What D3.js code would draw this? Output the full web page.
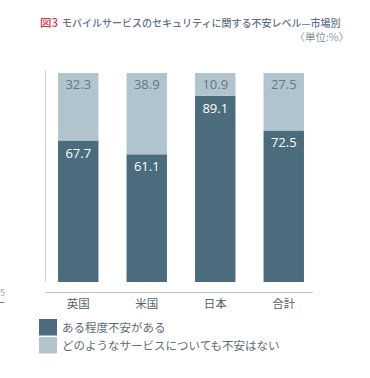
<!DOCTYPE html>
<html><head><meta charset="utf-8">
<script src="https://cdn.jsdelivr.net/npm/d3@7"></script>
<style>
body{margin:0;background:#fff;}
svg{display:block;font-family:"Noto Sans CJK JP","Open Sans",sans-serif;}
</style></head>
<body>
<svg id="c" width="370" height="378"></svg>
<script>
const categories = ["英国","米国","日本","合計"];
const concerned = [67.7, 61.1, 89.1, 72.5];
const notConcerned = [32.3, 38.9, 10.9, 27.5];
const seriesNames = ["ある程度不安がある","どのようなサービスについても不安はない"];
const colors = ["#4a6c7d","#b1c4ce"];

const svg = d3.select("#c");
const x = d3.scaleBand().domain(categories).range([44,318]).paddingInner(0.41).paddingOuter(0.205);
const y = d3.scaleLinear().domain([0,100]).range([282,73]);

// title
svg.append("text").attr("x",40).attr("y",26.5).attr("font-size",11.5).attr("font-weight",500)
  .attr("fill","#d43a4d").text("図3");
svg.append("text").attr("x",62).attr("y",26.5).attr("font-size",10).attr("font-weight",500)
  .attr("fill","#5d7087").text("モバイルサービスのセキュリティに関する不安レベル—市場別");
svg.append("text").attr("x",349).attr("y",40.5).attr("text-anchor","end").attr("font-size",10.5).attr("fill","#8a96a0").text("〈単位:%〉");

// axes lines
svg.append("line").attr("x1",45.5).attr("x2",45.5).attr("y1",70).attr("y2",282).attr("stroke","#c9d0d4").attr("stroke-width",1);
svg.append("line").attr("x1",45).attr("x2",313).attr("y1",292.5).attr("y2",292.5).attr("stroke","#bcc6cc").attr("stroke-width",1);

const data = categories.map((c,i)=>({c, a:concerned[i], b:notConcerned[i]}));
const g = svg.append("g");
g.selectAll(".a").data(data).join("rect").attr("x",d=>x(d.c)).attr("width",x.bandwidth())
  .attr("y",d=>y(d.a)).attr("height",d=>y(0)-y(d.a)).attr("fill",colors[0]);
g.selectAll(".b").data(data).join("rect").attr("x",d=>x(d.c)).attr("width",x.bandwidth())
  .attr("y",d=>y(d.a+d.b)).attr("height",d=>y(d.a)-y(d.a+d.b)).attr("fill",colors[1]);

g.selectAll(".lb").data(data).join("text").attr("x",d=>x(d.c)+x.bandwidth()/2).attr("y",d=>y(d.a+d.b)+16)
  .attr("text-anchor","middle").attr("font-size",13).attr("fill","#627886").attr("font-family","'Open Sans',sans-serif").text(d=>d.b.toFixed(1));
g.selectAll(".la").data(data).join("text").attr("x",d=>x(d.c)+x.bandwidth()/2).attr("y",d=>y(d.a)+17)
  .attr("text-anchor","middle").attr("font-size",13).attr("fill","#ffffff").attr("font-family","'Open Sans',sans-serif").text(d=>d.a.toFixed(1));

// category labels
svg.selectAll(".cat").data(categories).join("text").attr("x",d=>x(d)+x.bandwidth()/2).attr("y",308)
  .attr("text-anchor","middle").attr("font-size",11.5).attr("fill","#555f66").text(d=>d);

// legend
const lg = svg.append("g");
seriesNames.forEach((n,i)=>{
  lg.append("rect").attr("x",39).attr("y",319+i*18).attr("width",18).attr("height",16.5).attr("fill",colors[i]);
  lg.append("text").attr("x",62).attr("y",331.5+i*18).attr("font-size",11.5).attr("fill","#5f6b73").text(n);
});

// cropped artifact at left edge
svg.append("text").attr("x",0).attr("y",296).attr("font-size",9).attr("fill","#9aa4aa").text("5");
svg.append("line").attr("x1",0).attr("x2",4).attr("y1",302.5).attr("y2",302.5).attr("stroke","#6d7a82");
</script>
</body></html>
